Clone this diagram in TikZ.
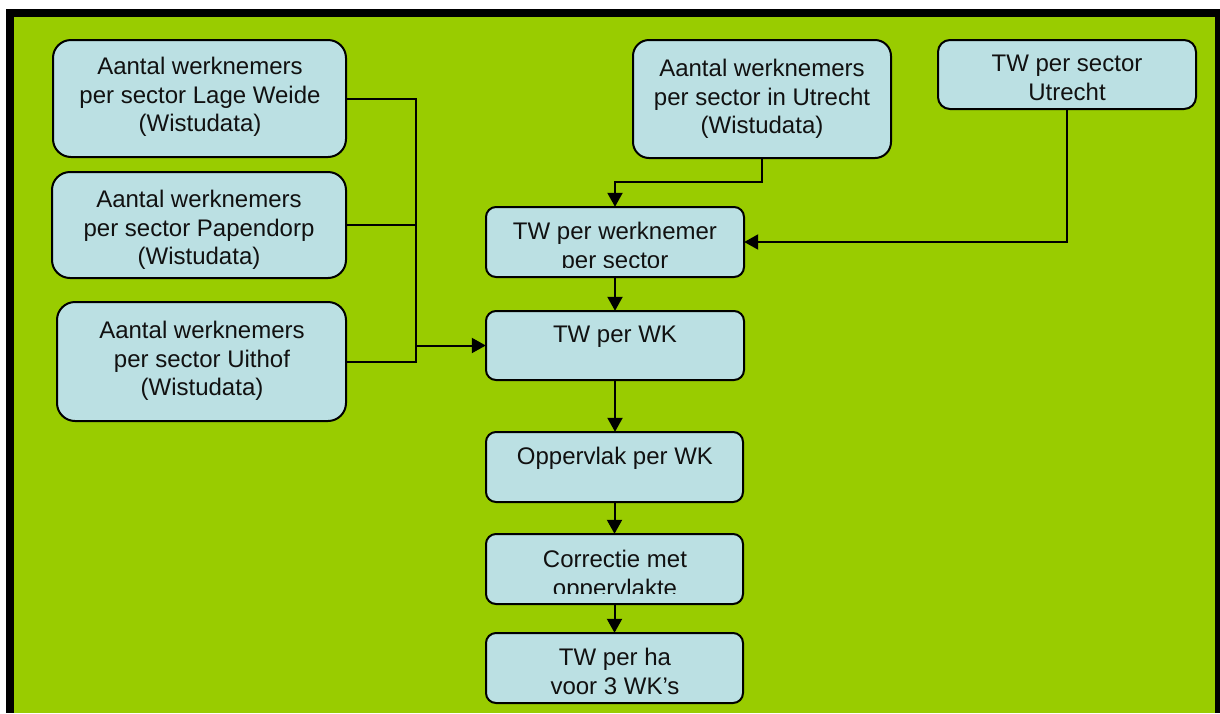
\documentclass[tikz,border=0pt]{standalone}
\usepackage{fontspec}
\setmainfont{Liberation Sans}
\usetikzlibrary{arrows.meta}
\definecolor{panelgreen}{HTML}{99CC00}
\definecolor{boxblue}{HTML}{BBE0E3}
\definecolor{inkdark}{HTML}{111111}
\tikzset{
  box/.style={draw=black, line width=2pt, fill=boxblue, rounded corners=#1},
  box/.default=10pt,
  txt/.style={anchor=north, inner sep=0pt, align=center, text=inkdark,
    font=\fontsize{24}{28.5}\selectfont},
  conn/.style={draw=black, line width=2pt},
  arr/.style={conn, -{Triangle[length=14pt,width=15pt]}}
}
\begin{document}
\begin{tikzpicture}[x=1pt,y=-1pt]
  % page frame
  \useasboundingbox (0,0) rectangle (1220,713);
  \fill[white] (0,0) rectangle (1220,713);
  \fill[black] (6,9) rectangle (1220,713);
  \fill[panelgreen] (14,17) rectangle (1215,713);

  % boxes
  \path[box=18pt] (53,40) rectangle (346,157) coordinate (lwSE);
  \node[inner sep=0pt, minimum width=293pt, minimum height=117pt] (lw) at (199.5,98.5) {};
  \path[box=18pt] (52,172) rectangle (346,278);
  \node[inner sep=0pt, minimum width=294pt, minimum height=106pt] (pd) at (199,225) {};
  \path[box=18pt] (57,302) rectangle (346,421);
  \node[inner sep=0pt, minimum width=289pt, minimum height=119pt] (ut) at (201.5,361.5) {};
  \path[box=16pt] (633,40) rectangle (891,158);
  \node[inner sep=0pt, minimum width=258pt, minimum height=118pt] (uu) at (762,99) {};
  \path[box=12pt] (938,40) rectangle (1196,109);
  \node[inner sep=0pt, minimum width=258pt, minimum height=69pt] (ts) at (1067,74.5) {};
  \path[box] (486,207) rectangle (744,277);
  \node[inner sep=0pt, minimum width=258pt, minimum height=70pt] (tw) at (615,242) {};
  \path[box] (486,311) rectangle (744,380);
  \node[inner sep=0pt, minimum width=258pt, minimum height=69pt] (wk) at (615,345.5) {};
  \path[box] (486,432) rectangle (743,502);
  \node[inner sep=0pt, minimum width=257pt, minimum height=70pt] (op) at (614.5,467) {};
  \path[box] (486,534) rectangle (743,604);
  \node[inner sep=0pt, minimum width=257pt, minimum height=70pt] (co) at (614.5,569) {};
  \path[box] (486,633) rectangle (743,703);
  \node[inner sep=0pt, minimum width=257pt, minimum height=70pt] (ha) at (614.5,668) {};

  % labels
  \node[txt] (lwT) at (200,57) {Aantal werknemers\\per sector Lage Weide\\(Wistudata)};
  \node[txt] (pdT) at (199,190) {Aantal werknemers\\per sector Papendorp\\(Wistudata)};
  \node[txt] (utT) at (202,321) {Aantal werknemers\\per sector Uithof\\(Wistudata)};
  \node[txt] (uuT) at (762,59) {Aantal werknemers\\per sector in Utrecht\\(Wistudata)};
  \node[txt] (tsT) at (1067,55) {TW per sector\\Utrecht};
  \begin{scope}
    \clip (486,207) rectangle (744,267);
    \node[txt] (twT) at (615,222) {TW per werknemer\\per sector};
  \end{scope}
  \node[txt] (wkT) at (615,326) {TW per WK};
  \node[txt] (opT) at (615,447) {Oppervlak per WK};
  \begin{scope}
    \clip (486,534) rectangle (743,593);
    \node[txt] (coT) at (615,550) {Correctie met\\oppervlakte};
  \end{scope}
  \node[txt] (haT) at (615,648) {TW per ha\\voor 3 WK’s};

  % collecting line of the three districts
  \coordinate (jt) at (416,98.5);
  \coordinate (jb) at (416,361.5);
  \draw[conn] (lw.east) -- (jt) -- (jb) -- (ut.east);
  \draw[conn] (pd.east) -- (pd.east -| jt);
  \draw[arr] (wk.west -| jt) -- (wk.west);

  % inputs from Utrecht
  \draw[arr] (uu.south) -- ++(0,24) -| (tw.north);
  \draw[arr] (ts.south) |- (tw.east);

  % main chain
  \draw[arr] (tw.south) -- (wk.north);
  \draw[arr] (wk.south) -- (wk.south |- op.north);
  \draw[arr] (op.south) -- (co.north);
  \draw[arr] (co.south) -- (ha.north);
\end{tikzpicture}
\end{document}
